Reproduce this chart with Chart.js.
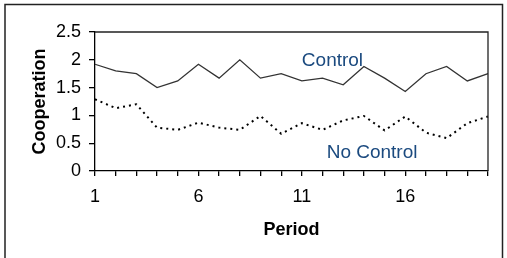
<!DOCTYPE html>
<html>
<head>
<meta charset="utf-8">
<script src="https://cdn.jsdelivr.net/npm/chart.js@4.4.0/dist/chart.umd.min.js"></script>
<style>
  html, body { margin: 0; padding: 0; background: #fff; }
</style>
</head>
<body>
<canvas id="myChart" width="507" height="258"></canvas>
<script>
const periods = [1, 2, 3, 4, 5, 6, 7, 8, 9, 10, 11, 12, 13, 14, 15, 16, 17, 18, 19, 20];
const control = [1.92, 1.8, 1.75, 1.5, 1.62, 1.92, 1.67, 2.0, 1.67, 1.75, 1.62, 1.67, 1.55, 1.88, 1.67, 1.43, 1.75, 1.88, 1.62, 1.75];
const noControl = [1.29, 1.13, 1.2, 0.78, 0.74, 0.87, 0.78, 0.74, 0.99, 0.67, 0.86, 0.74, 0.91, 0.99, 0.73, 0.98, 0.69, 0.59, 0.86, 0.98];
const shownPeriods = [1, 6, 11, 16];

const FONT = "'Liberation Sans', Arial, sans-serif";
const labelColor = "#1b4a7f";

// series names written inside the plot, placed in data coordinates
const seriesLabels = [
    { text: "Control", x: 11.0, y: 1.88 },
    { text: "No Control", x: 12.2, y: 0.24 },
];

const framePlugin = {
    id: "frame",
    afterDraw(chart) {
        const c = chart.ctx;
        const a = chart.chartArea;
        c.save();
        // outer frame (bottom edge is off the picture)
        c.strokeStyle = "#222";
        c.lineWidth = 1.5;
        c.beginPath();
        c.moveTo(5, 262);
        c.lineTo(5, 4.5);
        c.lineTo(502.5, 4.5);
        c.lineTo(502.5, 262);
        c.stroke();
        // top and right edge of the plot area
        c.lineWidth = 1.3;
        c.beginPath();
        c.moveTo(a.left, a.top);
        c.lineTo(a.right, a.top);
        c.lineTo(a.right, a.bottom);
        c.stroke();
        // series labels
        const xs = chart.scales.x;
        const ys = chart.scales.y;
        c.fillStyle = labelColor;
        c.font = "19px " + FONT;
        c.textBaseline = "alphabetic";
        c.textAlign = "left";
        seriesLabels.forEach((l) => {
            c.fillText(l.text, xs.getPixelForValue(l.x - 1), ys.getPixelForValue(l.y));
        });
        c.restore();
    },
};

const ctx = document.getElementById("myChart").getContext("2d");
const chart = new Chart(ctx, {
    type: "line",
    data: {
        labels: periods,
        datasets: [
            {
                label: "Control",
                data: control,
                borderColor: "#333",
                borderWidth: 1.3,
                pointRadius: 0,
                tension: 0,
                fill: false,
            },
            {
                label: "No Control",
                data: noControl,
                borderColor: "#000",
                borderWidth: 2,
                borderDash: [2, 4],
                pointRadius: 0,
                tension: 0,
                fill: false,
            },
        ],
    },
    options: {
        responsive: false,
        animation: false,
        layout: { padding: { top: 32, right: 19, left: 0, bottom: 0 } },
        plugins: {
            legend: { display: false },
            tooltip: { enabled: false },
        },
        scales: {
            x: {
                type: "category",
                offset: false,
                afterFit: (s) => { s.height = 87; },
                grid: {
                    drawOnChartArea: false,
                    drawTicks: true,
                    tickLength: 5,
                    color: "#000",
                    lineWidth: 1.3,
                },
                border: { color: "#000", width: 1.3 },
                ticks: {
                    autoSkip: false,
                    maxRotation: 0,
                    padding: 10,
                    color: "#000",
                    font: { family: FONT, size: 18 },
                    callback: function (value, index) {
                        const p = periods[index];
                        return shownPeriods.includes(p) ? String(p) : "";
                    },
                },
                title: {
                    display: true,
                    text: "Period",
                    color: "#000",
                    font: { family: FONT, size: 18, weight: "bold" },
                    padding: { top: 0, bottom: 17 },
                },
            },
            y: {
                min: 0,
                max: 2.5,
                afterFit: (s) => { s.width = 95; },
                grid: {
                    drawOnChartArea: false,
                    drawTicks: true,
                    tickLength: 6,
                    color: "#000",
                    lineWidth: 1.3,
                },
                border: { color: "#000", width: 1.3 },
                ticks: {
                    stepSize: 0.5,
                    padding: 8,
                    color: "#000",
                    font: { family: FONT, size: 18 },
                    callback: (value) => String(value),
                },
                title: {
                    display: true,
                    text: "Cooperation",
                    color: "#000",
                    font: { family: FONT, size: 18, weight: "bold" },
                    padding: { top: 29, bottom: 0 },
                },
            },
        },
    },
    plugins: [framePlugin],
});
</script>
</body>
</html>
